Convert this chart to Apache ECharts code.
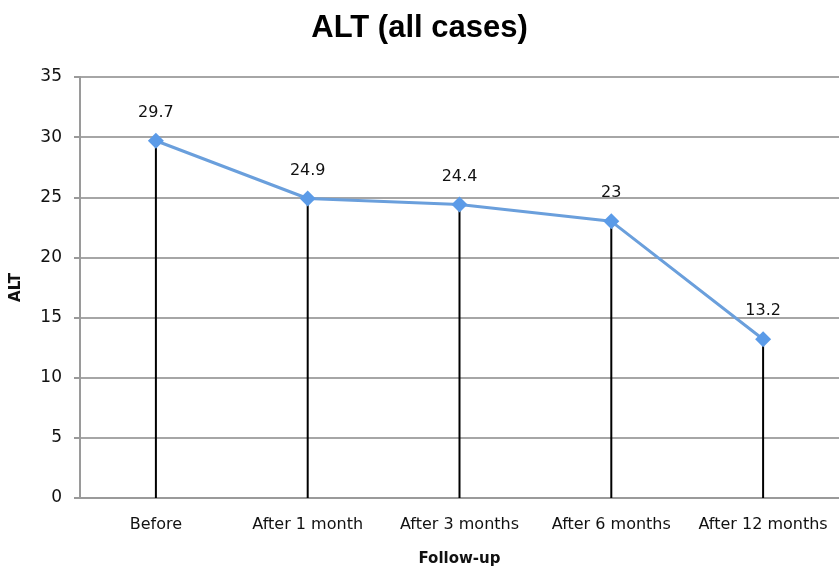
<!DOCTYPE html>
<html>
<head>
<meta charset="utf-8">
<script src="https://cdn.jsdelivr.net/npm/echarts@6/dist/echarts.min.js"></script>
<style>
  html, body { margin: 0; padding: 0; background: #fff; }
  #main { width: 839px; height: 572px; }
</style>
</head>
<body>
<div id="main"></div>
<script>
// 数据
var categories = ["Before", "After 1 month", "After 3 months", "After 6 months", "After 12 months"];
var altValues = [29.7, 24.9, 24.4, 23, 13.2];
var yTicks = [0, 5, 10, 15, 20, 25, 30, 35];

(function () {
  var myChart = echarts.init(document.getElementById("main"));
  var font = "DejaVu Sans";
  var option = {
    animation: false,
    title: {
      text: "ALT (all cases)",
      left: "center",
      top: 8,
      textStyle: { fontFamily: "Liberation Sans", fontSize: 31, fontWeight: "bold", color: "#000" }
    },
    grid: { left: 80, top: 77, width: 761, bottom: 72 },
    xAxis: {
      type: "category",
      data: categories,
      name: "Follow-up",
      nameLocation: "middle",
      nameGap: 54,
      nameTextStyle: { fontFamily: font, fontSize: 15, fontWeight: "bold", color: "#111" },
      axisTick: { show: false },
      axisLine: { lineStyle: { color: "#9a9a9a", width: 2 } },
      axisLabel: { interval: 0, fontFamily: font, fontSize: 16, color: "#111", margin: 19 }
    },
    yAxis: {
      type: "value",
      min: yTicks[0],
      max: yTicks[yTicks.length - 1],
      interval: 5,
      name: "ALT",
      nameLocation: "middle",
      nameGap: 56,
      nameTextStyle: { fontFamily: font, fontSize: 15, fontWeight: "bold", color: "#111" },
      axisLine: { show: true, lineStyle: { color: "#9a9a9a", width: 2 } },
      axisTick: { show: true, length: 6, lineStyle: { color: "#9a9a9a", width: 2 } },
      axisLabel: { fontFamily: font, fontSize: 17, color: "#111", margin: 18 },
      splitLine: { lineStyle: { color: "#a6a6a6", width: 2 } }
    },
    series: [
      {
        // 垂直线
        type: "bar",
        data: altValues,
        barWidth: 2,
        itemStyle: { color: "#000" },
        z: 1
      },
      {
        type: "line",
        data: altValues,
        symbol: "diamond",
        symbolSize: 16,
        lineStyle: { color: "#6a9fdc", width: 3 },
        itemStyle: { color: "#5b9be8" },
        label: {
          show: true,
          position: "top",
          distance: 12,
          fontFamily: font,
          fontSize: 16,
          color: "#111"
        },
        z: 3
      }
    ]
  };
  myChart.setOption(option);
  window.addEventListener("resize", function () {
    myChart.resize();
  });
})();
</script>
</body>
</html>
